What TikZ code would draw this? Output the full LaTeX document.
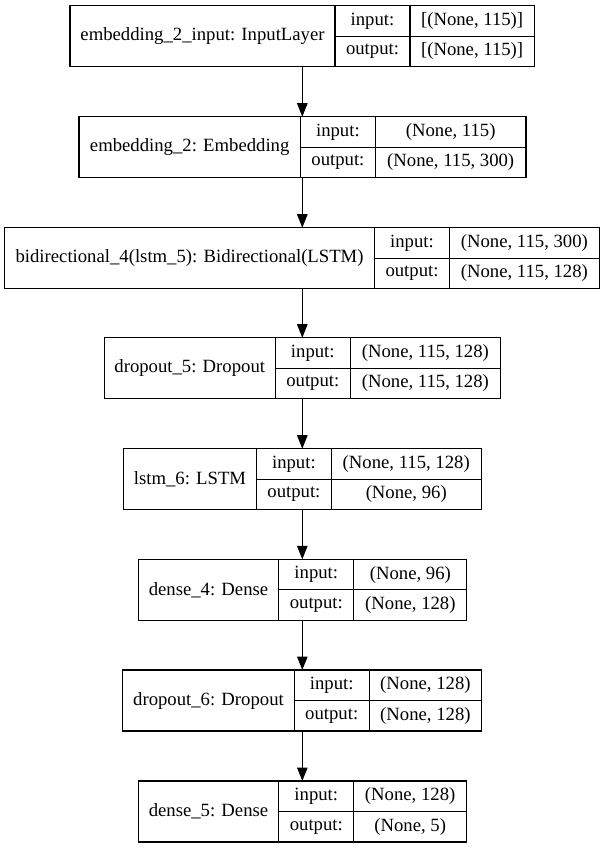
\documentclass[tikz,border=0pt]{standalone}
\usepackage{fontspec}
\setmainfont{Liberation Serif}
\usetikzlibrary{arrows.meta, positioning}

\begin{document}
\begin{tikzpicture} [
    x=1pt, y=-1pt,
    namebox/.style={rectangle, draw=black, line width=1.1pt, minimum height=61pt, inner sep=0pt, outer sep=0pt, anchor=north west, font=\fontsize{18.7}{22}\selectfont, text centered},
    cell/.style={rectangle, draw=black, line width=1.1pt, minimum height=30.5pt, inner sep=0pt, outer sep=0pt, anchor=north west, font=\fontsize{18.7}{22}\selectfont, text centered},
    lab/.style={cell, minimum width=75pt},
    arrow/.style={-{Triangle[length=13.5pt, width=10.5pt]}, line width=1.1pt}
]
\useasboundingbox (0,0) rectangle (603,848);
\coordinate (axis) at (302.3,0);

% layer boxes: name cell, then input/output labels and shapes
\node[namebox, minimum width=265] (emb_in) at (70,5.7) {embedding\_2\_input: InputLayer};
\node[lab] (emb_in_in) at (emb_in.north east) {input:};
\node[lab] (emb_in_out) at (emb_in_in.south west) {output:};
\node[cell, minimum width=124.2] (emb_in_inval) at (emb_in_in.north east) {[(None, 115)]};
\node[cell, minimum width=124.2] (emb_in_outval) at (emb_in_inval.south west) {[(None, 115)]};

\node[namebox, minimum width=221.4] (emb) at (79,116.7) {embedding\_2: Embedding};
\node[lab] (emb_in2) at (emb.north east) {input:};
\node[lab] (emb_out) at (emb_in2.south west) {output:};
\node[cell, minimum width=150.6] (emb_inval) at (emb_in2.north east) {(None, 115)};
\node[cell, minimum width=150.6] (emb_outval) at (emb_inval.south west) {(None, 115, 300)};

\node[namebox, minimum width=369.9] (bidir) at (4.6,227.7) {bidirectional\_4(lstm\_5): Bidirectional(LSTM)};
\node[lab] (bidir_in) at (bidir.north east) {input:};
\node[lab] (bidir_out) at (bidir_in.south west) {output:};
\node[cell, minimum width=149.8] (bidir_inval) at (bidir_in.north east) {(None, 115, 300)};
\node[cell, minimum width=149.8] (bidir_outval) at (bidir_inval.south west) {(None, 115, 128)};

\node[namebox, minimum width=171.1] (drop5) at (104.2,337.7) {dropout\_5: Dropout};
\node[lab] (drop5_in) at (drop5.north east) {input:};
\node[lab] (drop5_out) at (drop5_in.south west) {output:};
\node[cell, minimum width=150.2] (drop5_inval) at (drop5_in.north east) {(None, 115, 128)};
\node[cell, minimum width=150.2] (drop5_outval) at (drop5_inval.south west) {(None, 115, 128)};

\node[namebox, minimum width=132.8] (lstm6) at (123.6,448.7) {lstm\_6: LSTM};
\node[lab] (lstm6_in) at (lstm6.north east) {input:};
\node[lab] (lstm6_out) at (lstm6_in.south west) {output:};
\node[cell, minimum width=149.7] (lstm6_inval) at (lstm6_in.north east) {(None, 115, 128)};
\node[cell, minimum width=149.7] (lstm6_outval) at (lstm6_inval.south west) {(None, 96)};

\node[namebox, minimum width=140.6] (dense4) at (138.2,559.3) {dense\_4: Dense};
\node[lab] (dense4_in) at (dense4.north east) {input:};
\node[lab] (dense4_out) at (dense4_in.south west) {output:};
\node[cell, minimum width=113.1] (dense4_inval) at (dense4_in.north east) {(None, 96)};
\node[cell, minimum width=113.1] (dense4_outval) at (dense4_inval.south west) {(None, 128)};

\node[namebox, minimum width=171.4] (drop6) at (122.8,670) {dropout\_6: Dropout};
\node[lab] (drop6_in) at (drop6.north east) {input:};
\node[lab] (drop6_out) at (drop6_in.south west) {output:};
\node[cell, minimum width=112.4] (drop6_inval) at (drop6_in.north east) {(None, 128)};
\node[cell, minimum width=112.4] (drop6_outval) at (drop6_inval.south west) {(None, 128)};

\node[namebox, minimum width=140.6] (dense5) at (138.2,781) {dense\_5: Dense};
\node[lab] (dense5_in) at (dense5.north east) {input:};
\node[lab] (dense5_out) at (dense5_in.south west) {output:};
\node[cell, minimum width=112.7] (dense5_inval) at (dense5_in.north east) {(None, 128)};
\node[cell, minimum width=112.7] (dense5_outval) at (dense5_inval.south west) {(None, 5)};

% connections
\draw[arrow] (emb_in.south -| axis) -- (emb.north -| axis);
\draw[arrow] (emb.south -| axis) -- (bidir.north -| axis);
\draw[arrow] (bidir.south -| axis) -- (drop5.north -| axis);
\draw[arrow] (drop5.south -| axis) -- (lstm6.north -| axis);
\draw[arrow] (lstm6.south -| axis) -- (dense4.north -| axis);
\draw[arrow] (dense4.south -| axis) -- (drop6.north -| axis);
\draw[arrow] (drop6.south -| axis) -- (dense5.north -| axis);

\end{tikzpicture}
\end{document}
